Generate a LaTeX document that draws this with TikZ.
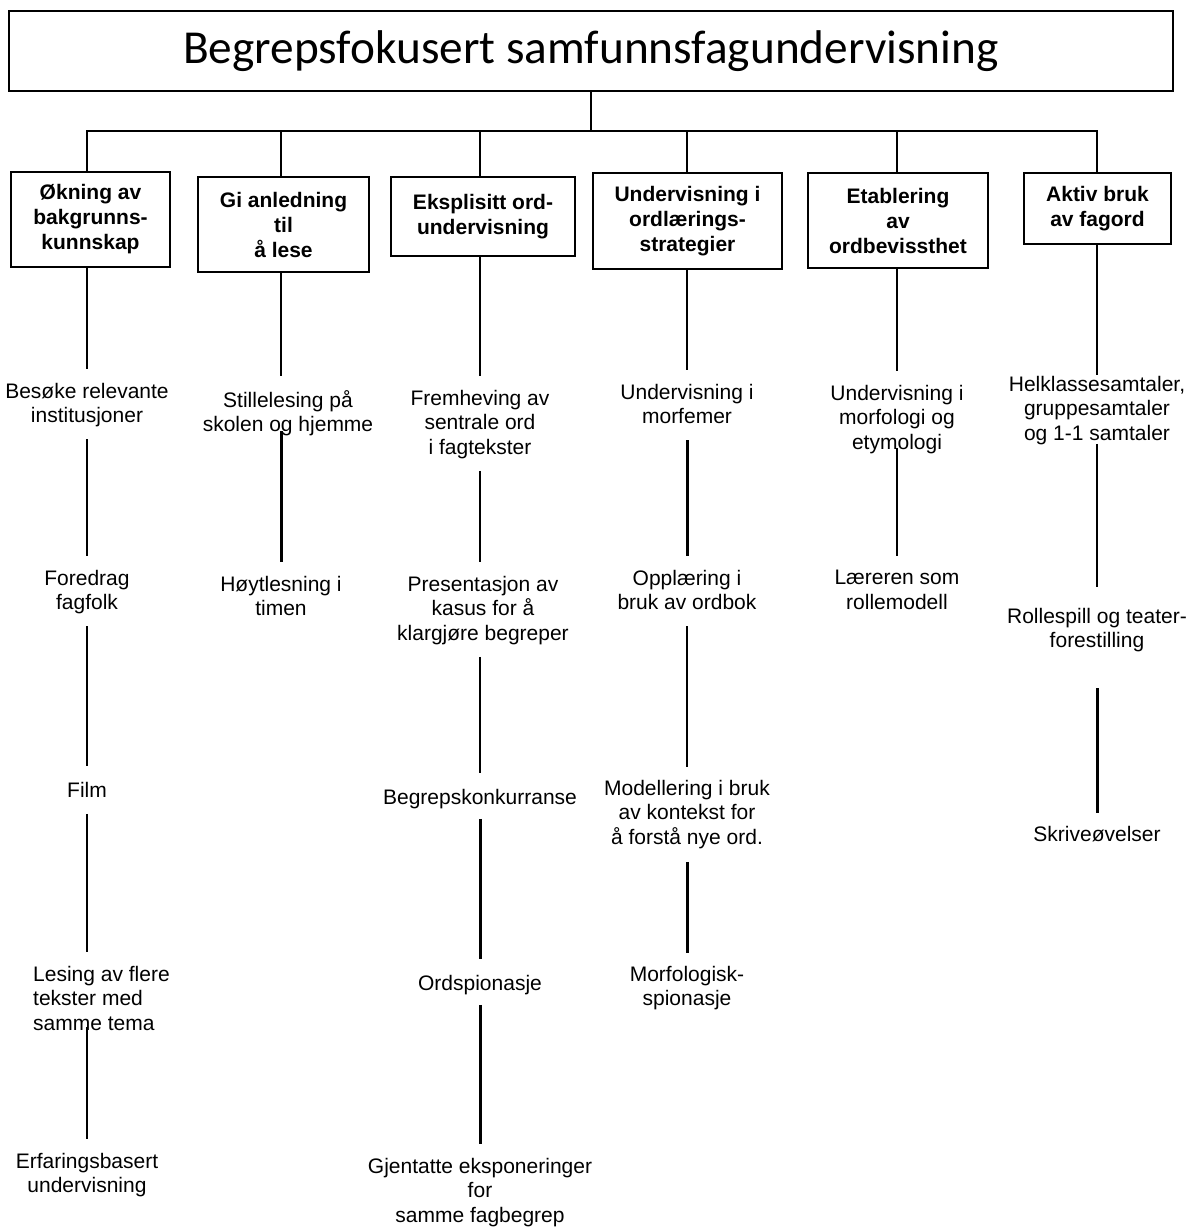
\documentclass[tikz,border=0pt]{standalone}
\usepackage{fontspec}
\setmainfont{Liberation Sans}
\newfontfamily\titlefont{Carlito}
\usetikzlibrary{calc}

\begin{document}
\begin{tikzpicture}
	[   x=1pt, y=-1pt,
	    tbox/.style={draw=black, line width=2.6pt, align=center, inner sep=0pt, font=\fontsize{21}{25}\selectfont\bfseries, execute at begin node=\rule{0pt}{23.5pt}},
	    item/.style={align=center, inner sep=0pt, anchor=north, font=\fontsize{21}{24.5}\selectfont, execute at begin node=\strut, execute at end node=\strut},
	]
	\tikzset{link/.style={draw, line width=1.8pt, shorten <=9pt, shorten >=14pt}}
	\tikzset{thick link/.style={link, line width=3pt}}
	\useasboundingbox (0,0) rectangle (1186,1227);
	
	\node[draw=black, line width=2.6pt, minimum width=1164pt, minimum height=80pt, inner sep=0pt, font=\titlefont\fontsize{47.3}{56}\selectfont] (title) at (591,51) {Begrepsfokusert samfunnsfagundervisning};
	\coordinate (bus) at (591,131);
	\draw[line width=1.8pt] (title.south) -- (bus);
	
	\foreach \n/\c/\x/\y/\w/\h/\t in {
		b1/87/90.5/219.5/159/95/{Økning av\\bakgrunns-\\kunnskap},
		b2/281/283.5/224.5/171/95/{Gi anledning\\til\\å lese},
		b3/480/483/216.5/184/79/{Eksplisitt ord-\\undervisning},
		b4/687/687.5/221/189/96/{Undervisning i\\ordlærings-\\strategier},
		b5/897/898/220.5/180/95/{Etablering\\av\\ordbevissthet},
		b6/1097/1097.5/208.5/147/71/{Aktiv bruk\\av fagord}}
	{
		\node[tbox, minimum width=\w pt, minimum height=\h pt] (\n) at (\x,\y) {\t};
		\draw[line width=1.8pt] (bus) -| (\c,0 |- \n.north);
	}
	
	\node[item] (i11) at (87,383) {Besøke relevante\\institusjoner};
	\node[item] (i12) at (87,570) {Foredrag\\fagfolk};
	\node[item] (i13) at (87,780) {Film};
	\node[item, anchor=north west, align=left] (i14) at (33,966) {Lesing av flere\\tekster med\\samme tema};
	\node[item] (i15) at (87,1153) {Erfaringsbasert\\undervisning};
	
	\node[item] (i21) at (288,390) {Stillelesing på\\skolen og hjemme};
	\node[item] (i22) at (281,576) {Høytlesning i\\timen};
	
	\node[item] (i31) at (480,390) {Fremheving av\\sentrale ord\\i fagtekster};
	\node[item] (i32) at (483,576) {Presentasjon av\\kasus for å\\klargjøre begreper};
	\node[item] (i33) at (480,787) {Begrepskonkurranse};
	\node[item] (i34) at (480,973) {Ordspionasje};
	\node[item] (i35) at (480,1158) {Gjentatte eksponeringer\\for\\samme fagbegrep};
	
	\node[item] (i41) at (687,384) {Undervisning i\\morfemer};
	\node[item] (i42) at (687,570) {Opplæring i\\bruk av ordbok};
	\node[item] (i43) at (687,780) {Modellering i bruk\\av kontekst for\\å forstå nye ord.};
	\node[item] (i44) at (687,966) {Morfologisk-\\spionasje};
	
	\node[item] (i51) at (897,385) {Undervisning i\\morfologi og\\etymologi};
	\node[item] (i52) at (897,570) {Læreren som\\rollemodell};
	
	\node[item] (i61) at (1097,376) {Helklassesamtaler,\\gruppesamtaler\\og 1-1 samtaler};
	\node[item] (i62) at (1097,608) {Rollespill og teater-\\forestilling};
	\node[item] (i63) at (1097,824) {Skriveøvelser};
	
	\draw[link, shorten <=0pt] (i11.north |- b1.south) -- (i11.north);
	\draw[link] (i11.south) -- (i11.south |- i12.north);
	\draw[link] (i12.south) -- (i12.south |- i13.north);
	\draw[link] (i13.south) -- (i13.south |- i14.north);
	\draw[link, shorten <=-11pt] (i15.north |- i14.south) -- (i15.north);
	
	\draw[link, shorten <=0pt] (i22.north |- b2.south) -- (i22.north |- i21.north);
	\draw[thick link, shorten <=-8pt] (i22.north |- i21.south) -- (i22.north);
	
	\draw[link, shorten <=0pt] (i31.north |- b3.south) -- (i31.north);
	\draw[link] (i31.south) -- (i31.south |- i32.north);
	\draw[link] (i33.north |- i32.south) -- (i33.north);
	\draw[thick link, shorten <=7pt] (i33.south) -- (i34.north);
	\draw[thick link, shorten <=7pt] (i34.south) -- (i35.north);
	
	\draw[link, shorten <=0pt] (i41.north |- b4.south) -- (i41.north);
	\draw[thick link] (i41.south) -- (i42.north);
	\draw[link, shorten >=13pt] (i42.south) -- (i43.north);
	\draw[thick link, shorten <=10pt, shorten >=13pt] (i43.south) -- (i44.north);
	
	\draw[link, shorten <=0pt] (i51.north |- b5.south) -- (i51.north);
	\draw[link, shorten <=-9pt] (i51.south) -- (i52.north);
	
	\draw[link, shorten <=0pt, shorten >=1pt] (i61.north |- b6.south) -- (i61.north);
	\draw[link, shorten <=-4pt, shorten >=21pt] (i61.south) -- (i62.north);
	\draw[thick link, shorten <=33pt, shorten >=11pt] (i62.south) -- (i63.north);
\end{tikzpicture}
\end{document}
